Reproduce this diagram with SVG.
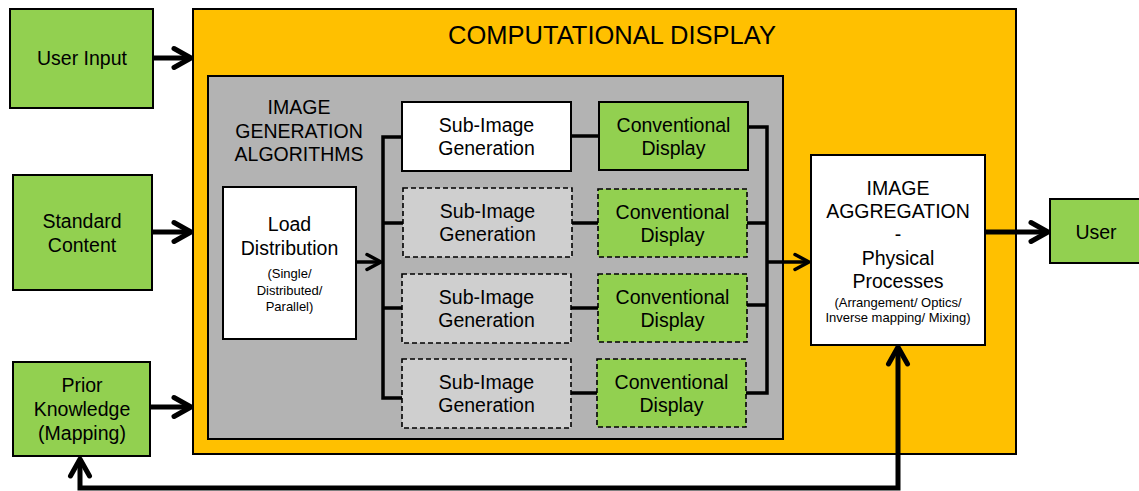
<svg xmlns="http://www.w3.org/2000/svg" width="1139" height="491" viewBox="0 0 1139 491">
<style>
text{font-family:"Liberation Sans",Arial,sans-serif;fill:#000;text-anchor:middle}
.green{fill:#92D050;stroke:#000;stroke-width:2}
.white{fill:#fff;stroke:#000;stroke-width:2}
.dsub{fill:#CFCFCF;stroke:#000;stroke-width:1.6;stroke-dasharray:5 3}
.dgreen{fill:#92D050;stroke:#000;stroke-width:1.6;stroke-dasharray:5 3}
.big{stroke:#000;stroke-width:5;fill:none}
.thin{stroke:#000;stroke-width:3.5;fill:none}
.t18{font-size:19.5px}
.t19{font-size:19.5px}
.sm{font-size:13px}
</style>
<defs>
<marker id="ah" markerUnits="userSpaceOnUse" markerWidth="40" markerHeight="40" viewBox="-20 -20 40 40" refX="0" refY="0" orient="auto-start-reverse" overflow="visible">
<path d="M-17,-9.5 L0,0 L-17,9.5" fill="none" stroke="#000" stroke-width="5" stroke-linecap="round" stroke-linejoin="round"/>
</marker>
<marker id="ahs" markerUnits="userSpaceOnUse" markerWidth="40" markerHeight="40" viewBox="-20 -20 40 40" refX="0" refY="0" orient="auto" overflow="visible">
<path d="M-14,-7.5 L0,0 L-14,7.5" fill="none" stroke="#000" stroke-width="3.5" stroke-linecap="round" stroke-linejoin="round"/>
</marker>
</defs>

<g id="computational-display">
<rect x="193" y="9" width="823" height="445" fill="#FFC000" stroke="#000" stroke-width="2"/>
<text x="612" y="44" style="font-size:25.5px">COMPUTATIONAL DISPLAY</text>
</g>

<g id="image-generation">
<rect x="208" y="76" width="575" height="363" fill="#B3B3B3" stroke="#000" stroke-width="2"/>
<text class="t18" x="299" y="114">IMAGE</text>
<text class="t18" x="299" y="137.5">GENERATION</text>
<text class="t18" x="299" y="161">ALGORITHMS</text>
</g>

<g id="user-input">
<rect class="green" x="10" y="9" width="143" height="99"/>
<text class="t18" x="82" y="65">User Input</text>
</g>
<g id="standard-content">
<rect class="green" x="13" y="175" width="139" height="115"/>
<text class="t18" x="82" y="228">Standard</text>
<text class="t18" x="82" y="252">Content</text>
</g>
<g id="prior-knowledge">
<rect class="green" x="13" y="362" width="137" height="94"/>
<text class="t18" x="82" y="392">Prior</text>
<text class="t18" x="82" y="416">Knowledge</text>
<text class="t18" x="82" y="440">(Mapping)</text>
</g>

<g id="load-distribution">
<rect class="white" x="223" y="187" width="133" height="152"/>
<text class="t19" x="289.5" y="231">Load</text>
<text class="t19" x="289.5" y="255">Distribution</text>
<text class="sm" x="289.5" y="278">(Single/</text>
<text class="sm" x="289.5" y="295">Distributed/</text>
<text class="sm" x="289.5" y="311">Parallel)</text>
</g>

<g id="sub-image-1">
<rect class="white" x="402" y="102" width="169" height="69"/>
<text class="t18" x="486.5" y="132">Sub-Image</text>
<text class="t18" x="486.5" y="155">Generation</text>
</g>
<g id="sub-image-2">
<rect class="dsub" x="403" y="188" width="169" height="69"/>
<text class="t18" x="487.5" y="218">Sub-Image</text>
<text class="t18" x="487.5" y="241">Generation</text>
</g>
<g id="sub-image-3">
<rect class="dsub" x="402" y="274" width="169" height="69"/>
<text class="t18" x="486.5" y="304">Sub-Image</text>
<text class="t18" x="486.5" y="327">Generation</text>
</g>
<g id="sub-image-4">
<rect class="dsub" x="402" y="359" width="169" height="69"/>
<text class="t18" x="486.5" y="389">Sub-Image</text>
<text class="t18" x="486.5" y="412">Generation</text>
</g>

<g id="conv-display-1">
<rect class="green" x="599" y="102" width="149" height="68"/>
<text class="t18" x="673.5" y="132">Conventional</text>
<text class="t18" x="673.5" y="155">Display</text>
</g>
<g id="conv-display-2">
<rect class="dgreen" x="598" y="189" width="149" height="68"/>
<text class="t18" x="672.5" y="219">Conventional</text>
<text class="t18" x="672.5" y="242">Display</text>
</g>
<g id="conv-display-3">
<rect class="dgreen" x="598" y="274" width="149" height="68"/>
<text class="t18" x="672.5" y="304">Conventional</text>
<text class="t18" x="672.5" y="327">Display</text>
</g>
<g id="conv-display-4">
<rect class="dgreen" x="597" y="359" width="149" height="68"/>
<text class="t18" x="671.5" y="389">Conventional</text>
<text class="t18" x="671.5" y="412">Display</text>
</g>

<g id="image-aggregation">
<rect class="white" x="811" y="155" width="174" height="190"/>
<text class="t19" x="898" y="195">IMAGE</text>
<text class="t19" x="898" y="218">AGGREGATION</text>
<text class="t19" x="898" y="241">-</text>
<text class="t19" x="898" y="265">Physical</text>
<text class="t19" x="898" y="288">Processes</text>
<text class="sm" x="898" y="307">(Arrangement/ Optics/</text>
<text class="sm" x="898" y="322">Inverse mapping/ Mixing)</text>
</g>

<g id="user">
<rect class="green" x="1050" y="199" width="95" height="64"/>
<text class="t18" x="1096" y="239">User</text>
</g>

<g id="connectors">
<line class="big" x1="153" y1="58" x2="191" y2="58" marker-end="url(#ah)"/>
<line class="big" x1="152" y1="232" x2="191" y2="232" marker-end="url(#ah)"/>
<line class="big" x1="150" y1="407" x2="191" y2="407" marker-end="url(#ah)"/>
<line class="big" x1="985" y1="232" x2="1048" y2="232" marker-end="url(#ah)"/>
<path class="big" d="M80,459 L80,488 L898,488 L898,347" marker-start="url(#ah)" marker-end="url(#ah)"/>
<line class="thin" x1="356" y1="262" x2="381" y2="262" marker-end="url(#ahs)"/>
<path class="thin" d="M402,137 L383,137 L383,398 L402,398 M383,223 L403,223 M383,308 L402,308"/>
<line class="thin" x1="571" y1="136" x2="599" y2="136"/>
<line class="thin" x1="572" y1="223" x2="598" y2="223"/>
<line class="thin" x1="571" y1="308" x2="598" y2="308"/>
<line class="thin" x1="571" y1="393" x2="597" y2="393"/>
<path class="thin" d="M748,127 L767,127 L767,393 L746,393 M747,223 L767,223 M747,305 L767,305"/>
<line class="thin" x1="767" y1="262" x2="809" y2="262" marker-end="url(#ahs)"/>
</g>
</svg>
